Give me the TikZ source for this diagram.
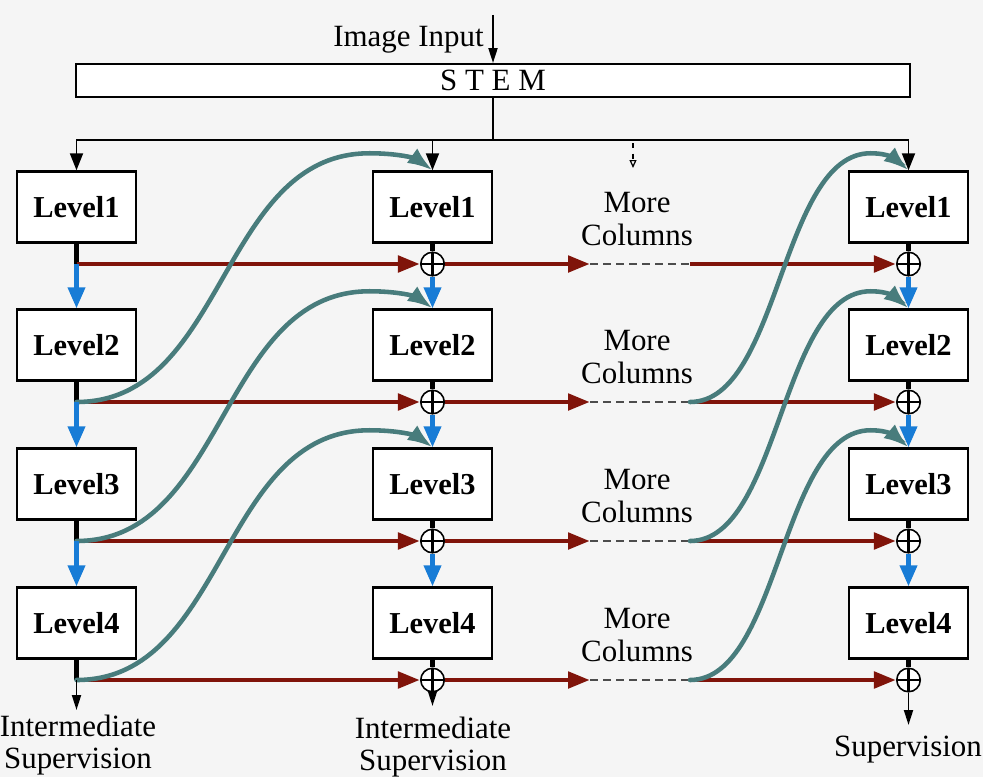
\documentclass[tikz,border=0pt]{standalone}
\usepackage{fontspec}
\setmainfont{Liberation Serif}
\usetikzlibrary{arrows.meta,calc}

\definecolor{bgc}{RGB}{245,245,245}
\definecolor{fusered}{RGB}{128,20,10}
\definecolor{jumpteal}{RGB}{72,124,124}
\definecolor{downblue}{RGB}{24,124,214}

\tikzset{
  lvl/.style={draw,line width=1.4pt,fill=white,minimum width=2.38cm,minimum height=1.42cm,inner sep=0pt,font=\fontsize{17.3}{18}\selectfont\bfseries},
  sum/.style={circle,draw,line width=0.9pt,fill=white,minimum size=0.47cm,inner sep=0pt,
    path picture={\draw[line width=1.2pt] (path picture bounding box.north) -- (path picture bounding box.south) (path picture bounding box.west) -- (path picture bounding box.east);}},
  lbl/.style={align=center,inner sep=0pt,font=\fontsize{17.6}{18.5}\selectfont},
  redarr/.style={line width=2.8pt,fusered,-{Triangle[length=0.44cm,width=0.32cm]}},
  bluearr/.style={line width=2.3pt,downblue,-{Triangle[length=0.42cm,width=0.34cm]}},
  tealarr/.style={line width=2.6pt,jumpteal,line cap=round,-{Latex[length=0.5cm,width=0.36cm]}},
  busarr/.style={line width=1.1pt,-{Triangle[length=0.34cm,width=0.26cm]}},
  outarr/.style={line width=1.1pt,-{Triangle[length=0.3cm,width=0.18cm]}},
  stub/.style={line width=2.3pt},
  gap/.style={line width=0.9pt,black!70,dash pattern=on 0.16cm off 0.1cm},
}

\begin{document}
\begin{tikzpicture}[x=0.02cm,y=-0.02cm]
  \fill[bgc] (0,0) rectangle (983,777);
  \useasboundingbox (0,0) rectangle (983,777);

  % stem and input
  \node[draw,line width=1.1pt,fill=white,minimum width=16.68cm,minimum height=0.66cm,inner sep=0pt,font=\fontsize{17.6}{18}\selectfont] (stem) at (493,80.5) {S T E M};
  \node[lbl,anchor=east] (inp) at (484,40) {Image Input};
  \coordinate (src) at (493,15);
  \coordinate (bus) at (493,140);
  \coordinate (c0) at (633,143);
  \coordinate (c1) at (633,168);

  % columns of levels
  \foreach \r/\y in {1/207,2/345,3/484,4/623}{
    \node[lvl] (a\r) at (76.5,\y) {Level\r};
    \node[lvl] (b\r) at (432.5,\y) {Level\r};
    \node[lvl] (d\r) at (908.5,\y) {Level\r};
    \node[sum] (sb\r) at (432.5,\y+57) {};
    \node[sum] (sd\r) at (908.5,\y+57) {};
    \coordinate (j\r) at (76.5,\y+57);
    \coordinate (p\r) at (590,\y+57);
    \coordinate (q\r) at (690,\y+57);
    \node[lbl] (m\r) at (637,\y+12) {More\\Columns};
  }

  \draw[outarr] (src) -- (stem.north);
  \draw[line width=1.1pt] (stem.south) -- (bus);
  \draw[busarr] (bus) -| (a1.north);
  \draw[busarr] (bus) -| (d1.north);
  \draw[busarr] (b1.north |- bus) -- (b1.north);
  \draw[line width=0.7pt,dashed,-{Triangle[open,length=0.16cm,width=0.14cm]}] (c0) -- (c1);

  % fusion rows
  \foreach \r in {1,...,4}{
    \draw[stub] (a\r.south) -- (j\r);
    \draw[stub] (b\r.south) -- (sb\r.north);
    \draw[stub] (d\r.south) -- (sd\r.north);
    \draw[redarr] (j\r) -- (sb\r.west);
    \draw[redarr] (sb\r.east) -- (p\r);
    \draw[gap] (p\r) -- (q\r);
    \draw[redarr] (q\r) -- (sd\r.west);
  }

  % down paths and jumps to next column
  \foreach \r/\n in {1/2,2/3,3/4}{
    \draw[bluearr] (j\r) -- (a\n.north);
    \draw[bluearr] (sb\r.south) -- (b\n.north);
    \draw[bluearr] (sd\r.south) -- (d\n.north);
    \draw[tealarr] (j\n) .. controls +(150,0) and +(-150,0) .. ($(b\r.north)+(-63,-17)$) .. controls +(35,0) and +(-14,-10) .. (b\r.north);
    \draw[tealarr] (q\n) .. controls +(90,0) and +(-90,0) .. ($(d\r.north)+(-38,-17)$) .. controls +(20,0) and +(-12,-10) .. (d\r.north);
  }

  % outputs
  \coordinate (e1) at (76.5,710);
  \coordinate (e2) at (432.5,706);
  \coordinate (e4) at (908.5,725);
  \draw[outarr] (j4) -- (e1);
  \draw[outarr] (sb4.south) -- (e2);
  \draw[outarr] (sd4.south) -- (e4);
  \node[lbl] (s1) at (78,745) {Intermediate\\Supervision};
  \node[lbl] (s2) at (433,747) {Intermediate\\Supervision};
  \node[lbl] (s4) at (908,750) {Supervision};
\end{tikzpicture}
\end{document}
